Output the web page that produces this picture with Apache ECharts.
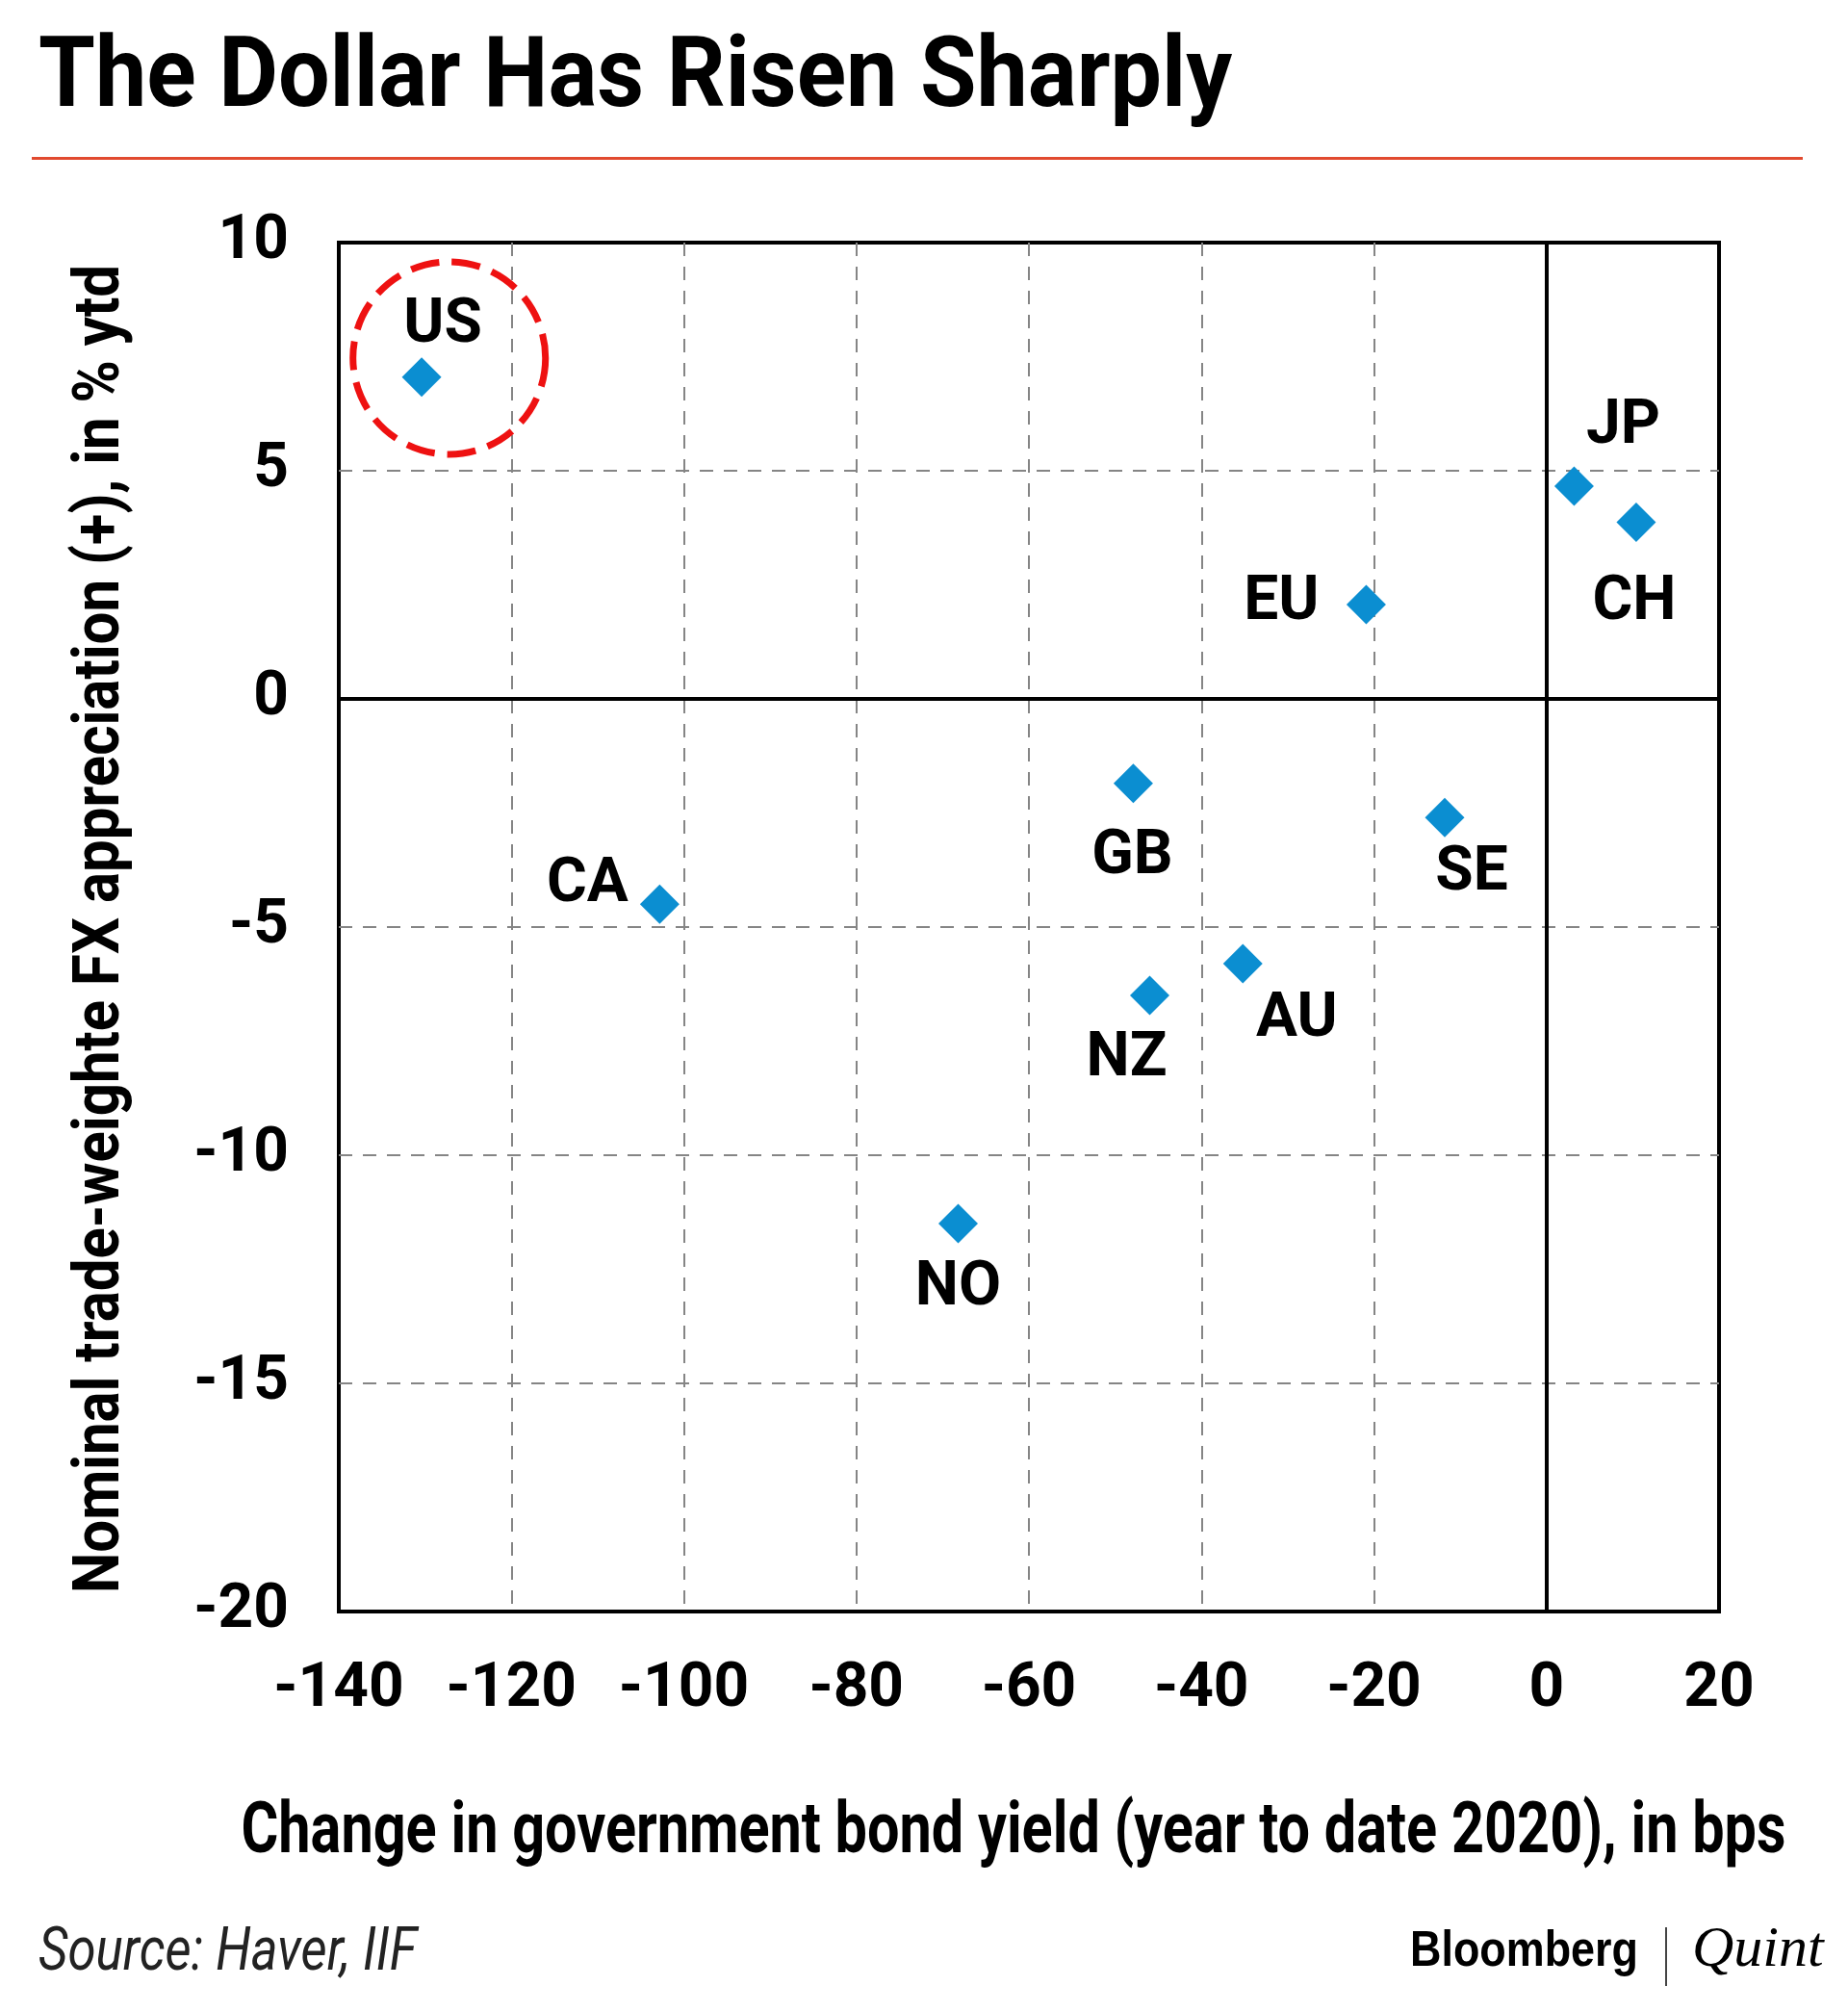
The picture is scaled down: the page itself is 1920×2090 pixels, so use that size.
<!DOCTYPE html>
<html>
<head>
<meta charset="utf-8">
<script src="https://cdn.jsdelivr.net/npm/echarts@6/dist/echarts.min.js"></script>
<style>
html,body{margin:0;padding:0;background:#fff;}
#chart{width:1920px;height:2090px;}
</style>
</head>
<body>
<div id="chart"></div>
<script>
// ---- data ----
const countries = ['US', 'CA', 'NO', 'GB', 'NZ', 'AU', 'EU', 'SE', 'JP', 'CH'];
const yieldChange = [-130.4, -102.8, -68.2, -47.9, -46.0, -35.2, -20.9, -11.8, 3.2, 10.4];
const fxAppreciation = [7.05, -4.5, -11.5, -1.85, -6.5, -5.8, 2.07, -2.6, 4.66, 3.87];
const highlightCenter = [-127.2, 7.47];
const xTicks = { min: -140, max: 20, interval: 20 };
const yTicks = { min: -20, max: 10, interval: 5 };
const titleText = 'The Dollar Has Risen Sharply';
const xAxisTitle = 'Change in government bond yield (year to date 2020), in bps';
const yAxisTitle = 'Nominal trade-weighte FX appreciation (+), in % ytd';
const sourceText = 'Source: Haver, IIF';

// ---- layout (label placement relative to each point, px) ----
const labelOffsets = {
  US: [22, -53], CA: [-75, -19], NO: [0, 68], GB: [-1, 77], NZ: [-24, 67],
  AU: [56, 59], EU: [-88, -1], SE: [28, 59], JP: [51, -61], CH: [-2, 84]
};

// measure helper to condense text horizontally to a target width
const mctx = document.createElement('canvas').getContext('2d');
function fitScale(text, font, target) {
  mctx.font = font;
  return target / mctx.measureText(text).width;
}

const titleFont = { fontFamily: 'Roboto', fontWeight: 'bold', fontSize: 102 };
const xNameFont = { fontFamily: 'Roboto', fontWeight: 'bold', fontSize: 74 };
const yNameFont = { fontFamily: 'Roboto', fontWeight: 'bold', fontSize: 66 };
const srcFont = { fontFamily: 'Roboto', fontStyle: 'italic', fontWeight: 'normal', fontSize: 62 };
const bbFont = { fontFamily: 'Liberation Sans', fontWeight: 'bold', fontSize: 52 };

const sTitle = fitScale(titleText, 'bold 102px Roboto', 1240);
const sXName = fitScale(xAxisTitle, 'bold 74px Roboto', 1605);
const sYName = fitScale(yAxisTitle, 'bold 66px Roboto', 1380);
const sSrc = fitScale(sourceText, 'italic 62px Roboto', 393);
const sBB = fitScale('Bloomberg', "bold 52px 'Liberation Sans'", 237);

const pointData = countries.map((c, i) => ({
  name: c,
  value: [yieldChange[i], fxAppreciation[i]],
  label: { offset: labelOffsets[c] }
}));

const gridDash = { color: '#858585', width: 2, type: [14, 11] };

const chart = echarts.init(document.getElementById('chart'), null, { renderer: 'canvas' });
chart.setOption({
  backgroundColor: '#ffffff',
  animation: false,
  grid: {
    left: 352, right: 134, top: 252, bottom: 416,
    outerBoundsMode: 'none', containLabel: false,
    show: true, borderColor: '#000', borderWidth: 4, backgroundColor: 'transparent'
  },
  xAxis: {
    type: 'value', min: xTicks.min, max: xTicks.max, interval: xTicks.interval,
    axisLine: { show: false },
    axisTick: { show: false },
    axisLabel: { margin: 50, fontFamily: 'Roboto', fontWeight: 'bold', fontSize: 64, color: '#000' },
    splitLine: { show: true, showMinLine: false, showMaxLine: false, lineStyle: gridDash }
  },
  yAxis: {
    type: 'value', min: yTicks.min, max: yTicks.max, interval: yTicks.interval,
    axisLine: { show: false },
    axisTick: { show: false },
    axisLabel: { margin: 52, fontFamily: 'Roboto', fontWeight: 'bold', fontSize: 64, color: '#000' },
    splitLine: { show: true, showMinLine: false, showMaxLine: false, lineStyle: gridDash }
  },
  series: [
    {
      type: 'scatter',
      name: 'countries',
      symbol: 'diamond',
      symbolSize: 41,
      itemStyle: { color: '#0b8ed1', opacity: 1 },
      label: {
        show: true, position: 'inside', formatter: '{b}',
        fontFamily: 'Roboto', fontWeight: 'bold', fontSize: 64, color: '#000'
      },
      data: pointData,
      z: 5,
      markLine: {
        silent: true, symbol: 'none', animation: false,
        label: { show: false },
        lineStyle: { color: '#000', width: 4, type: 'solid' },
        data: [{ xAxis: 0 }, { yAxis: 0 }]
      }
    },
    {
      type: 'scatter',
      name: 'highlight',
      silent: true,
      symbol: 'circle',
      symbolSize: 200,
      itemStyle: { color: 'rgba(0,0,0,0)', opacity: 1, borderColor: '#ee1111', borderWidth: 7, borderType: [30, 13] },
      data: [highlightCenter],
      z: 4
    }
  ],
  graphic: [
    {
      type: 'text', x: 40, y: 84, scaleX: sTitle,
      style: Object.assign({ text: titleText, fill: '#000', verticalAlign: 'middle', align: 'left' }, titleFont)
    },
    { type: 'rect', shape: { x: 33, y: 163, width: 1840, height: 3 }, style: { fill: '#e14a2f' } },
    {
      type: 'text', x: 1053, y: 1905, scaleX: sXName,
      style: Object.assign({ text: xAxisTitle, fill: '#000', verticalAlign: 'middle', align: 'center' }, xNameFont)
    },
    {
      type: 'text', x: 106, y: 965, rotation: Math.PI / 2, scaleX: sYName,
      style: Object.assign({ text: yAxisTitle, fill: '#000', verticalAlign: 'middle', align: 'center' }, yNameFont)
    },
    {
      type: 'text', x: 40, y: 2030, scaleX: sSrc,
      style: Object.assign({ text: sourceText, fill: '#222', verticalAlign: 'middle', align: 'left' }, srcFont)
    },
    {
      type: 'text', x: 1465, y: 2028, scaleX: sBB,
      style: Object.assign({ text: 'Bloomberg', fill: '#000', verticalAlign: 'middle', align: 'left' }, bbFont)
    },
    { type: 'line', shape: { x1: 1731, y1: 2002, x2: 1731, y2: 2063 }, style: { stroke: '#444', lineWidth: 2 } },
    {
      type: 'text', x: 1758, y: 2026,
      style: { text: 'Quint', fontFamily: "'Liberation Serif', 'DejaVu Serif', serif", fontStyle: 'italic', fontSize: 60, fill: '#000', verticalAlign: 'middle' }
    }
  ]
});
</script>
</body>
</html>
